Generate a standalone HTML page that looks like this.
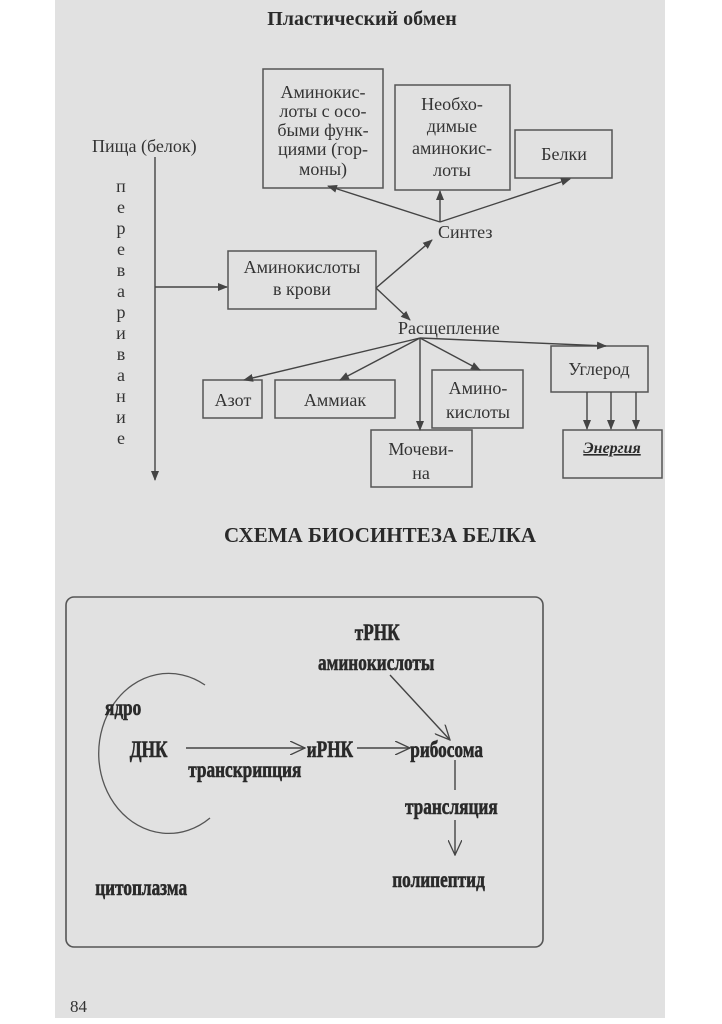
<!DOCTYPE html>
<html><head><meta charset="utf-8"><style>
html,body{margin:0;padding:0;background:#fff;}
svg{display:block;}
.s{font-family:"Liberation Serif",serif;fill:#333;}
.b{font-family:"Liberation Serif",serif;fill:#2a2a2a;font-weight:bold;}
</style></head><body>
<svg width="722" height="1024" viewBox="0 0 722 1024" xmlns="http://www.w3.org/2000/svg">
<defs>
<marker id="a" markerWidth="10" markerHeight="8" refX="9" refY="4" orient="auto" markerUnits="userSpaceOnUse"><path d="M0,0 L10,4 L0,8 z" fill="#444"/></marker>
<marker id="o" markerWidth="16" markerHeight="14" refX="15" refY="7" orient="auto" markerUnits="userSpaceOnUse"><path d="M0,0 L15,7 L0,14" fill="none" stroke="#444" stroke-width="1.3"/></marker>
</defs>
<rect x="55" y="0" width="610" height="1018" fill="#e1e1e1"/>
<g stroke="#555" stroke-width="1.5" fill="none">
<rect x="263" y="69" width="120" height="119"/>
<rect x="395" y="85" width="115" height="105"/>
<rect x="515" y="130" width="97" height="48"/>
<rect x="228" y="251" width="148" height="58"/>
<rect x="551" y="346" width="97" height="46"/>
<rect x="203" y="380" width="59" height="38"/>
<rect x="275" y="380" width="120" height="38"/>
<rect x="432" y="370" width="91" height="58"/>
<rect x="371" y="430" width="101" height="57"/>
<rect x="563" y="430" width="99" height="48"/>
</g>
<g stroke="#444" stroke-width="1.4" fill="none" marker-end="url(#a)">
<line x1="155" y1="157" x2="155" y2="480"/>
<line x1="155" y1="287" x2="227" y2="287"/>
<line x1="440" y1="222" x2="328" y2="186"/>
<line x1="440" y1="222" x2="440" y2="191"/>
<line x1="440" y1="222" x2="570" y2="179"/>
<line x1="376" y1="288" x2="432" y2="240"/>
<line x1="376" y1="288" x2="410" y2="320"/>
<line x1="420" y1="338" x2="244" y2="380"/>
<line x1="420" y1="338" x2="340" y2="380"/>
<line x1="420" y1="338" x2="480" y2="370"/>
<line x1="420" y1="338" x2="420" y2="430"/>
<line x1="420" y1="338" x2="606" y2="346"/>
<line x1="587" y1="392" x2="587" y2="429"/>
<line x1="611" y1="392" x2="611" y2="429"/>
<line x1="636" y1="392" x2="636" y2="429"/>
</g>
<text x="362" y="25" text-anchor="middle" class="b" font-size="20">Пластический обмен</text>
<g class="s" font-size="18" text-anchor="middle">
<text x="323" y="98">Аминокис-</text>
<text x="323" y="117">лоты с осо-</text>
<text x="323" y="136">быми функ-</text>
<text x="323" y="155">циями (гор-</text>
<text x="323" y="175">моны)</text>
<text x="452" y="110">Необхо-</text>
<text x="452" y="132">димые</text>
<text x="452" y="154">аминокис-</text>
<text x="452" y="176">лоты</text>
<text x="564" y="160">Белки</text>
<text x="302" y="273">Аминокислоты</text>
<text x="302" y="295">в крови</text>
<text x="599" y="375">Углерод</text>
<text x="233" y="406">Азот</text>
<text x="335" y="406">Аммиак</text>
<text x="478" y="394">Амино-</text>
<text x="478" y="418">кислоты</text>
<text x="421" y="455">Мочеви-</text>
<text x="421" y="479">на</text>
</g>
<g class="s" font-size="18">
<text x="92" y="152">Пища (белок)</text>
<text x="438" y="238">Синтез</text>
<text x="398" y="334">Расщепление</text>
</g>
<text x="612" y="453" class="b" font-size="16" font-style="italic" text-anchor="middle" text-decoration="underline">Энергия</text>
<g class="s" font-size="18" text-anchor="middle">
<text x="121" y="192">п</text><text x="121" y="213">е</text><text x="121" y="234">р</text>
<text x="121" y="255">е</text><text x="121" y="276">в</text><text x="121" y="297">а</text>
<text x="121" y="318">р</text><text x="121" y="339">и</text><text x="121" y="360">в</text>
<text x="121" y="381">а</text><text x="121" y="402">н</text><text x="121" y="423">и</text>
<text x="121" y="444">е</text>
</g>
<text x="380" y="542" class="b" font-size="21" text-anchor="middle">СХЕМА БИОСИНТЕЗА БЕЛКА</text>
<rect x="66" y="597" width="477" height="350" rx="8" fill="none" stroke="#555" stroke-width="1.6"/>
<path d="M205,685 A70,80 0 1 0 210,818" fill="none" stroke="#555" stroke-width="1.3"/>
<g stroke="#444" stroke-width="1.4" fill="none">
<line x1="186" y1="748" x2="305" y2="748" marker-end="url(#o)"/>
<line x1="357" y1="748" x2="410" y2="748" marker-end="url(#o)"/>
<line x1="390" y1="675" x2="450" y2="740" marker-end="url(#o)"/>
<line x1="455" y1="760" x2="455" y2="790"/>
<line x1="455" y1="820" x2="455" y2="855" marker-end="url(#o)"/>
</g>
<g class="b" font-size="23" transform="scale(0.75,1)" stroke="#2a2a2a" stroke-width="0.6">
<text x="140" y="715">ядро</text>
<text x="173" y="757">ДНК</text>
<text x="251" y="777">транскрипция</text>
<text x="409" y="757">иРНК</text>
<text x="547" y="757">рибосома</text>
<text x="473" y="640">тРНК</text>
<text x="424" y="670">аминокислоты</text>
<text x="540" y="814">трансляция</text>
<text x="523" y="887">полипептид</text>
<text x="127" y="895">цитоплазма</text>
</g>
<text x="70" y="1012" class="s" font-size="17">84</text>
</svg>
</body></html>
